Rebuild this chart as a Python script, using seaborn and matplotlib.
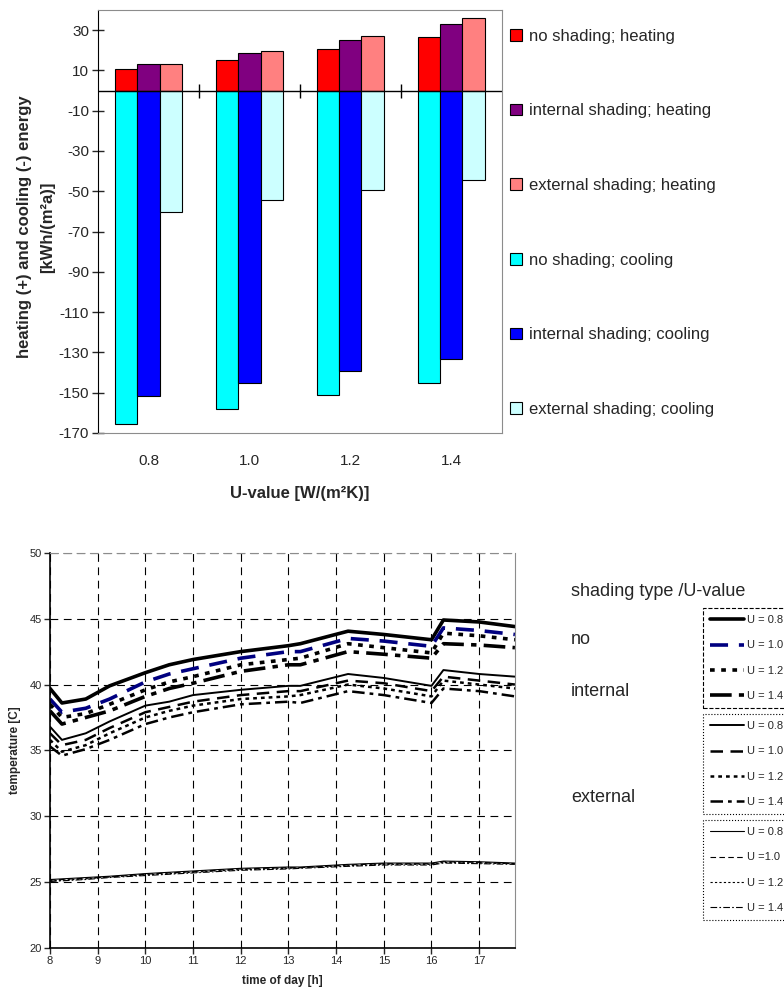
import numpy as np
import pandas as pd
import matplotlib.pyplot as plt
import seaborn as sns

sns.set_style('white')
plt.rcParams['font.family'] = ['Liberation Sans', 'DejaVu Sans']
plt.rcParams['axes.unicode_minus'] = False

# ---- top chart: annual heating / cooling energy ----
u_values = ['0.8', '1.0', '1.2', '1.4']
shadings = ['no shading', 'internal shading', 'external shading']

heat_no = [10.5, 15.3, 20.5, 26.5]
heat_int = [13.3, 18.7, 25.3, 32.8]
heat_ext = [13.3, 19.8, 27.3, 35.8]
cool_no = [-165.6, -158.0, -151.3, -145.2]
cool_int = [-151.7, -145.0, -139.0, -133.5]
cool_ext = [-60.3, -54.3, -49.2, -44.4]

heat_colors = ['#ff0000', '#800080', '#ff8080']
cool_colors = ['#00ffff', '#0000ff', '#ccffff']

# ---- bottom chart: room temperature over the day ----
times = [8, 8.25, 8.75, 9.25, 10, 10.5, 11, 12, 13, 13.25, 14.25, 15, 16, 16.25, 17, 17.75]

no_08 = [39.7, 38.6, 38.9, 39.9, 40.9, 41.5, 41.9, 42.5, 42.95, 43.1, 44.05, 43.8, 43.4, 44.9, 44.75, 44.4]
no_10 = [38.9, 37.9, 38.2, 38.9, 40.2, 40.8, 41.2, 42.0, 42.5, 42.5, 43.5, 43.3, 42.9, 44.3, 44.1, 43.8]
no_12 = [38.5, 37.5, 37.8, 38.5, 39.6, 40.2, 40.6, 41.5, 41.9, 42.0, 43.1, 42.8, 42.4, 43.9, 43.7, 43.4]
no_14 = [38.0, 37.0, 37.5, 38.0, 39.1, 39.7, 40.1, 41.0, 41.5, 41.5, 42.5, 42.3, 42.0, 43.1, 43.0, 42.8]
int_08 = [36.8, 35.8, 36.3, 37.2, 38.4, 38.7, 39.2, 39.6, 39.9, 39.9, 40.8, 40.5, 39.9, 41.1, 40.8, 40.6]
int_10 = [36.3, 35.4, 35.8, 36.7, 37.9, 38.3, 38.7, 39.2, 39.5, 39.5, 40.3, 40.1, 39.5, 40.6, 40.3, 40.0]
int_12 = [35.8, 34.9, 35.4, 36.3, 37.5, 38.0, 38.4, 38.9, 39.1, 39.2, 40.0, 39.7, 39.1, 40.3, 40.0, 39.7]
int_14 = [35.3, 34.6, 35.1, 35.8, 37.0, 37.5, 37.9, 38.5, 38.7, 38.6, 39.5, 39.2, 38.6, 39.7, 39.5, 39.1]
ext_08 = [25.2, 25.25, 25.35, 25.45, 25.65, 25.75, 25.85, 26.05, 26.15, 26.15, 26.35, 26.45, 26.45, 26.6, 26.55, 26.45]
ext_10 = [25.15, 25.2, 25.3, 25.4, 25.6, 25.7, 25.8, 26.0, 26.1, 26.1, 26.3, 26.4, 26.4, 26.55, 26.5, 26.4]
ext_12 = [25.1, 25.15, 25.25, 25.4, 25.55, 25.65, 25.75, 25.95, 26.05, 26.1, 26.25, 26.35, 26.35, 26.5, 26.45, 26.4]
ext_14 = [25.05, 25.1, 25.2, 25.35, 25.5, 25.6, 25.7, 25.9, 26.0, 26.05, 26.2, 26.3, 26.3, 26.45, 26.4, 26.35]

u_labels = ['U = 0.8', 'U = 1.0', 'U = 1.2', 'U = 1.4']
u_labels_ext = ['U = 0.8', 'U =1.0', 'U = 1.2', 'U = 1.4']


def draw_energy(fig):
    ax = fig.add_axes([0.125, 0.564, 0.515, 0.426])
    heat = pd.DataFrame({'U': u_values * 3,
                         'shading': np.repeat(shadings, 4),
                         'value': heat_no + heat_int + heat_ext})
    cool = pd.DataFrame({'U': u_values * 3,
                         'shading': np.repeat(shadings, 4),
                         'value': cool_no + cool_int + cool_ext})
    sns.barplot(data=heat, x='U', y='value', hue='shading', palette=heat_colors,
                saturation=1, width=0.66, edgecolor='black', linewidth=0.8,
                ax=ax, legend=False)
    sns.barplot(data=cool, x='U', y='value', hue='shading', palette=cool_colors,
                saturation=1, width=0.66, edgecolor='black', linewidth=0.8,
                ax=ax, legend=False)

    ax.axhline(0, color='black', lw=1)
    ax.plot([0.5, 1.5, 2.5], [0, 0, 0], ls='none', marker='|', ms=10, mew=1, color='black')
    ax.set_xlim(-0.5, 3.5)
    ax.set_ylim(-170, 40)
    ax.set_yticks(np.arange(-170, 31, 20))
    ax.tick_params(axis='y', left=True, direction='inout', length=9, width=1,
                   labelsize=11, pad=2)
    ax.tick_params(axis='x', length=0, labelsize=11, pad=15)
    for side in ['top', 'right', 'bottom']:
        ax.spines[side].set_color('#8c8c8c')
    ax.spines['left'].set_color('black')

    ax.set_ylabel('heating (+) and cooling (-) energy\n[kWh/(m²a)]',
                  fontsize=12, fontweight='bold', linespacing=1.7)
    ax.yaxis.set_label_coords(-0.105, 0.487)
    ax.set_xlabel('U-value [W/(m²K)]', fontsize=12, fontweight='bold')
    ax.xaxis.set_label_coords(0.5, -0.125)

    handles = ax.containers[0:3] + ax.containers[3:6]
    labels = [s + '; heating' for s in shadings] + [s + '; cooling' for s in shadings]
    fig.legend(handles, labels, loc='upper left', bbox_to_anchor=(0.651, 0.971),
               frameon=False, fontsize=12, handlelength=0.7, handleheight=0.7,
               handletextpad=0.4, labelspacing=3.58, borderpad=0, borderaxespad=0)


def draw_temperature(fig):
    ax = fig.add_axes([0.0638, 0.0453, 0.593, 0.398])
    series = [
        (no_08, 'black', 2.6, '-'),
        (no_10, '#000080', 2.6, (0, (5, 3))),
        (no_12, 'black', 2.6, (0, (1.3, 1.8))),
        (no_14, 'black', 2.6, (0, (6, 2, 1.5, 2))),
        (int_08, 'black', 1.4, '-'),
        (int_10, 'black', 1.8, (0, (5, 3))),
        (int_12, 'black', 1.8, (0, (1.5, 1.6))),
        (int_14, 'black', 1.8, (0, (5, 2, 1.5, 2))),
        (ext_08, 'black', 0.8, '-'),
        (ext_10, 'black', 0.8, (0, (5, 3))),
        (ext_12, 'black', 0.8, (0, (2, 2))),
        (ext_14, 'black', 0.8, (0, (6, 2, 1.5, 2))),
    ]
    lines = []
    for vals, color, lw, ls in series:
        sns.lineplot(x=times, y=vals, color=color, lw=lw, linestyle=ls, ax=ax)
        lines.append(ax.lines[-1])

    ax.set_xlim(8, 17.75)
    ax.set_ylim(20, 50)
    ax.set_xticks(range(8, 18))
    ax.set_yticks(range(20, 51, 5))
    ax.grid(True, color='black', lw=0.8, linestyle=(0, (7, 5)))
    ax.tick_params(direction='out', length=4, width=1, labelsize=8, pad=2,
                   left=True, bottom=True)
    ax.spines['left'].set_color('black')
    ax.spines['bottom'].set_color('black')
    ax.spines['left'].set_linewidth(1.2)
    ax.spines['bottom'].set_linewidth(1.2)
    ax.spines['right'].set_color('#8c8c8c')
    ax.spines['top'].set_color('#8c8c8c')
    ax.spines['top'].set_linestyle((0, (7, 5)))
    ax.set_xlabel('time of day [h]', fontsize=8.5, fontweight='bold', labelpad=6)
    ax.set_ylabel('temperature [C]', fontsize=8.5, fontweight='bold', labelpad=6)

    fig.text(571 / 784, 1 - 592 / 993, 'shading type /U-value', fontsize=13, va='center')
    fig.text(571 / 784, 1 - 640 / 993, 'no', fontsize=13, va='center')
    fig.text(571 / 784, 1 - 692 / 993, 'internal', fontsize=13, va='center')
    fig.text(571 / 784, 1 - 798 / 993, 'external', fontsize=13, va='center')

    tops = [608, 714, 820]
    groups = [(lines[0:4], u_labels, '--'), (lines[4:8], u_labels, ':'),
              (lines[8:12], u_labels_ext, ':')]
    for top, (hs, labs, frame_ls) in zip(tops, groups):
        leg = fig.legend(hs, labs, loc='upper left', bbox_to_anchor=(703 / 784, 1 - top / 993),
                         fontsize=8, handlelength=3.0, handletextpad=0.3,
                         labelspacing=1.37, borderpad=0.65, borderaxespad=0,
                         fancybox=False, edgecolor='black', framealpha=1)
        leg.get_frame().set_linestyle(frame_ls)
        leg.get_frame().set_linewidth(0.8)


fig = plt.figure(figsize=(7.84, 9.93), dpi=100)
draw_energy(fig)
draw_temperature(fig)
fig.savefig('out.png', dpi=100)
